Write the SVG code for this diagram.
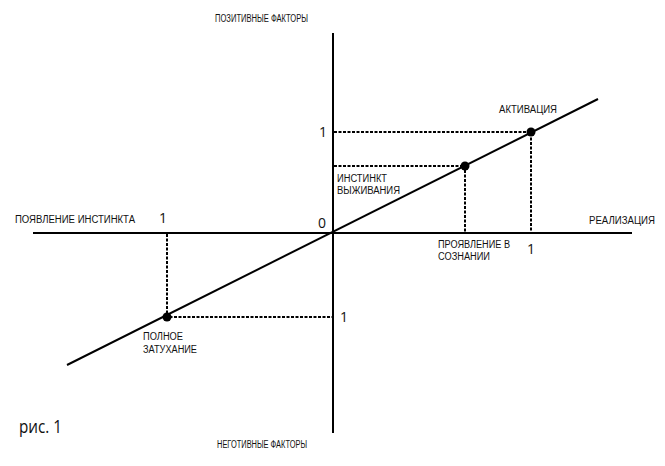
<svg xmlns="http://www.w3.org/2000/svg" width="665" height="466" viewBox="0 0 665 466">
<style>
.lbl{font-family:"Liberation Sans","DejaVu Sans",sans-serif;font-size:10px;fill:#111}
.num{font-family:"Open Sans","Liberation Sans",sans-serif;font-size:14px;fill:#111}
.axis{stroke:#000;stroke-width:2;fill:none}
.dot{stroke:#000;stroke-width:2;stroke-dasharray:3 1.5;fill:none}
</style>
<rect width="665" height="466" fill="#fff"/>
<g id="connectors">
<line class="axis" x1="333" y1="33" x2="333" y2="433"/>
<line class="axis" x1="33" y1="233" x2="632" y2="233"/>
<line class="axis" x1="67" y1="365" x2="598" y2="99"/>
<polyline class="dot" points="334,132 531,132 531,232"/>
<polyline class="dot" points="334,166 465,166 465,232"/>
<polyline class="dot" points="167,234 167,317 332,317"/>
</g>
<g id="n-activation"><circle cx="531" cy="132" r="4.5"/><text class="lbl" x="499" y="113" textLength="58" lengthAdjust="spacingAndGlyphs">АКТИВАЦИЯ</text></g>
<g id="n-instinct"><circle cx="465" cy="166" r="4.5"/><text class="lbl" x="337" y="182" textLength="50" lengthAdjust="spacingAndGlyphs">ИНСТИНКТ</text><text class="lbl" x="337" y="194" textLength="63" lengthAdjust="spacingAndGlyphs">ВЫЖИВАНИЯ</text></g>
<g id="n-fade"><circle cx="167" cy="317" r="4.5"/><text class="lbl" x="143" y="340" textLength="40" lengthAdjust="spacingAndGlyphs">ПОЛНОЕ</text><text class="lbl" x="143" y="353" textLength="54" lengthAdjust="spacingAndGlyphs">ЗАТУХАНИЕ</text></g>
<g id="n-manifest"><text class="lbl" x="438" y="248" textLength="72" lengthAdjust="spacingAndGlyphs">ПРОЯВЛЕНИЕ В</text><text class="lbl" x="438" y="260" textLength="52" lengthAdjust="spacingAndGlyphs">СОЗНАНИИ</text></g>
<g id="axis-labels">
<text class="lbl" x="215" y="22" textLength="93" lengthAdjust="spacingAndGlyphs">ПОЗИТИВНЫЕ ФАКТОРЫ</text>
<text class="lbl" x="217" y="448" textLength="90" lengthAdjust="spacingAndGlyphs">НЕГОТИВНЫЕ ФАКТОРЫ</text>
<text class="lbl" x="15" y="223" textLength="120" lengthAdjust="spacingAndGlyphs">ПОЯВЛЕНИЕ ИНСТИНКТА</text>
<text class="lbl" x="589" y="224" textLength="66" lengthAdjust="spacingAndGlyphs">РЕАЛИЗАЦИЯ</text>
</g>
<g id="ticks">
<text class="num" x="318" y="228">0</text>
<text class="num" x="319" y="137">1</text>
<text class="num" x="527" y="254">1</text>
<text class="num" x="159" y="223">1</text>
<text class="num" x="340" y="322">1</text>
</g>
<text id="caption" x="19" y="433" textLength="43" lengthAdjust="spacingAndGlyphs" style="font-family:'Open Sans','Liberation Sans',sans-serif;font-size:19px;fill:#111">рис. 1</text>
</svg>
